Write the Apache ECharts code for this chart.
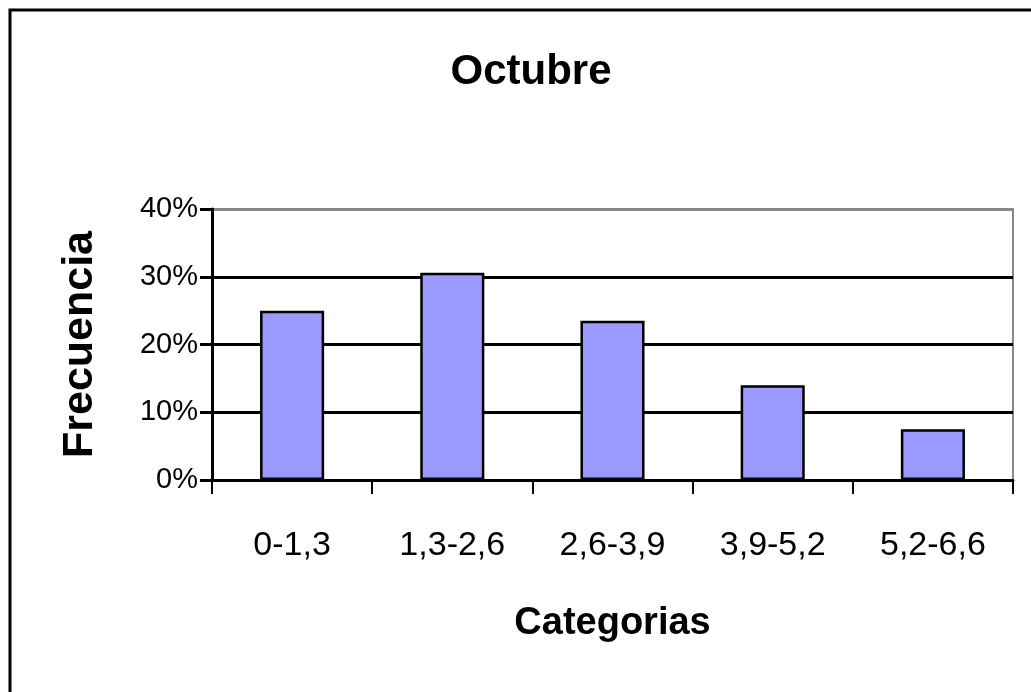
<!DOCTYPE html>
<html>
<head>
<meta charset="utf-8">
<script src="https://cdn.jsdelivr.net/npm/echarts@6/dist/echarts.min.js"></script>
<style>
  html, body { margin: 0; padding: 0; background: #fff; }
  #chart { width: 1031px; height: 692px; }
</style>
</head>
<body>
<div id="chart"></div>
<script>
// data
const categorias = ["0-1,3", "1,3-2,6", "2,6-3,9", "3,9-5,2", "5,2-6,6"];
const frecuencia = [0.25, 0.306, 0.235, 0.14, 0.075];

const font = "'Liberation Sans', Arial, sans-serif";

const myChart = echarts.init(document.getElementById("chart"));

const option = {
  backgroundColor: "#fff",
  animation: false,
  title: {
    text: "Octubre",
    left: 526,
    top: 46,
    textAlign: "center",
    textStyle: { fontFamily: font, fontSize: 42, fontWeight: "bold", color: "#000" },
  },
  // outer chart frame (only top/left visible)
  graphic: [
    {
      type: "rect",
      shape: { x: 10, y: 10, width: 1200, height: 900 },
      style: { fill: null, stroke: "#000", lineWidth: 3 },
      silent: true,
      z: 100,
    },
  ],
  grid: {
    left: 212,
    top: 209,
    right: 18,
    bottom: 212,
    show: true,
    borderColor: "#888",
    borderWidth: 2,
  },
  xAxis: {
    type: "category",
    data: categorias,
    name: "Categorias",
    nameLocation: "middle",
    nameGap: 125,
    nameTextStyle: { fontFamily: font, fontSize: 38, fontWeight: "bold", color: "#000" },
    axisLine: { lineStyle: { color: "#000", width: 3 } },
    axisTick: { show: true, length: 14, lineStyle: { color: "#000", width: 2 } },
    axisLabel: { fontFamily: font, fontSize: 34, color: "#000", margin: 49 },
  },
  yAxis: {
    type: "value",
    min: 0,
    max: 0.4,
    interval: 0.1,
    name: "Frecuencia",
    nameLocation: "middle",
    nameRotate: 90,
    nameGap: 110,
    nameTextStyle: { fontFamily: font, fontSize: 43, fontWeight: "bold", color: "#000" },
    axisLine: { show: true, lineStyle: { color: "#000", width: 3 } },
    axisTick: { show: true, length: 12, lineStyle: { color: "#000", width: 3 } },
    axisLabel: {
      fontFamily: font,
      fontSize: 29,
      color: "#000",
      margin: 14,
      formatter: (v) => Math.round(v * 100) + "%",
    },
    splitLine: {
      show: true,
      lineStyle: { color: ["#000", "#000", "#000", "#000", "#888"], width: 3 },
    },
  },
  series: [
    {
      name: "Frecuencia",
      type: "bar",
      data: frecuencia,
      barWidth: "40%",
      itemStyle: { color: "#9999FF", borderColor: "#000", borderWidth: 2.5 },
    },
  ],
};

myChart.setOption(option);
</script>
</body>
</html>
